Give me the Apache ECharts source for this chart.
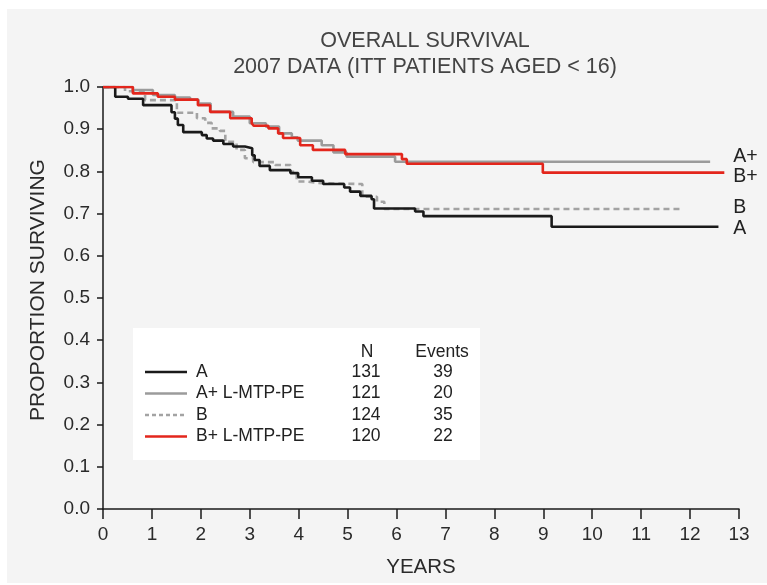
<!DOCTYPE html>
<html><head><meta charset="utf-8">
<script src="https://cdn.jsdelivr.net/npm/echarts@6/dist/echarts.min.js"></script>
<style>html,body{margin:0;padding:0;background:#fff}#c{width:767px;height:585px}</style>
</head><body><div id="c"></div>
<script>
const titleLines = ['OVERALL SURVIVAL', '2007 DATA (ITT PATIENTS AGED < 16)'];
const xAxisName = 'YEARS';
const yAxisName = 'PROPORTION SURVIVING';
const seriesNames = ['A', 'A+ L-MTP-PE', 'B', 'B+ L-MTP-PE'];
const endLabelTexts = ['A', 'A+', 'B', 'B+'];
const endLabelPos = [[12.88, 0.665], [12.88, 0.835], [12.88, 0.713], [12.88, 0.788]];
const nPatients = [131, 121, 124, 120];
const nEvents = [39, 20, 35, 22];

// Kaplan-Meier steps: [years, survival after event]
const survA = [[0,1],[0.25,0.977],[0.51,0.972],[0.82,0.957],[1.40,0.94],[1.47,0.925],[1.53,0.91],[1.64,0.893],
  [2.02,0.886],[2.12,0.878],[2.25,0.873],[2.46,0.865],[2.66,0.859],[2.9,0.855],[3.05,0.838],[3.1,0.827],[3.2,0.813],
  [3.41,0.803],[3.83,0.796],[3.99,0.786],[4.27,0.778],[4.5,0.770],[4.93,0.762],[5.05,0.752],[5.26,0.742],[5.49,0.734],
  [5.54,0.712],[6.38,0.705],[6.55,0.694],[9.17,0.669],[12.58,0.669]];
const survAplus = [[0,1],[0.61,0.993],[1.02,0.981],[1.47,0.975],[1.78,0.970],[1.95,0.961],[2.2,0.941],[2.66,0.930],
  [3.0,0.914],[3.33,0.906],[3.6,0.890],[3.86,0.881],[3.98,0.873],[4.47,0.862],[4.71,0.845],[4.98,0.835],[5.97,0.823],[12.41,0.823]];
const survB = [[0,1],[0.45,0.99],[0.86,0.969],[1.51,0.939],[1.92,0.926],[2.09,0.915],[2.22,0.902],[2.39,0.896],[2.5,0.870],
  [2.73,0.851],[2.9,0.831],[3.07,0.822],[3.52,0.815],[3.83,0.799],[3.96,0.776],[4.17,0.772],[4.47,0.770],[5.3,0.740],
  [5.6,0.728],[5.75,0.711],[11.8,0.711]];
const survBplus = [[0,1],[0.61,0.985],[1.12,0.977],[1.47,0.970],[1.94,0.957],[2.19,0.941],[2.6,0.926],[3.04,0.914],[3.08,0.908],
  [3.38,0.902],[3.58,0.890],[3.68,0.879],[4.03,0.862],[4.29,0.851],[4.95,0.841],[6.11,0.829],[6.21,0.818],[8.99,0.797],[12.7,0.797]];

const colors = ['#1a1a1a', '#9b9b9b', '#a3a3a3', '#e3261c'];
const lineTypes = ['solid', 'solid', [6, 4], 'solid'];
const datasets = [survA, survAplus, survB, survBplus];
const zOrder = [3, 2, 1, 4];

const FONT = "'Liberation Sans', Arial, Helvetica, sans-serif";
const chart = echarts.init(document.getElementById('c'), null, {renderer: 'canvas'});

chart.setOption({
  animation: false,
  backgroundColor: '#ffffff',
  grid: {left: 103, right: 28, top: 87, bottom: 76, containLabel: false},
  xAxis: {
    type: 'value', min: 0, max: 13, interval: 1,
    name: xAxisName, nameLocation: 'middle', nameGap: 48,
    nameTextStyle: {fontFamily: FONT, fontSize: 20.5, color: '#2a2a2a'},
    axisLine: {show: true, lineStyle: {color: '#1a1a1a', width: 1.5}},
    axisTick: {show: true, length: 10, lineStyle: {color: '#1a1a1a', width: 1.5}},
    axisLabel: {fontFamily: FONT, fontSize: 19, color: '#2a2a2a', margin: 16},
    splitLine: {show: false}
  },
  yAxis: {
    type: 'value', min: 0, max: 1, interval: 0.1,
    axisLine: {show: true, lineStyle: {color: '#1a1a1a', width: 1.5}},
    axisTick: {show: true, length: 6, lineStyle: {color: '#1a1a1a', width: 1.5}},
    axisLabel: {fontFamily: FONT, fontSize: 19, color: '#2a2a2a', margin: 13, formatter: v => v.toFixed(1)},
    splitLine: {show: false}
  },
  series: datasets.map((d, i) => ({
    name: seriesNames[i], type: 'line', step: 'end', data: d, showSymbol: false, symbol: 'none',
    z: zOrder[i],
    lineStyle: {color: colors[i], width: 2.6, type: lineTypes[i]}
  }))
});

// Build graphics
const g = [];
g.push({type: 'rect', z: -10, silent: true, shape: {x: 7, y: 9, width: 760, height: 574}, style: {fill: '#f4f4f4'}});
titleLines.forEach((t, i) => g.push({type: 'text', x: 425, y: 41 + i * 26, style: {text: t, fontFamily: FONT, fontSize: 21.5, fill: '#444', textAlign: 'center', textVerticalAlign: 'middle'}}));
g.push({type: 'text', x: 38, y: 290, rotation: Math.PI / 2, style: {text: yAxisName, fontFamily: FONT, fontSize: 21, fill: '#2a2a2a', textAlign: 'center', textVerticalAlign: 'middle'}});
endLabelTexts.forEach((t, i) => {
  const p = chart.convertToPixel({gridIndex: 0}, endLabelPos[i]);
  g.push({type: 'text', x: p[0], y: p[1], z: 10, style: {text: t, fontFamily: FONT, fontSize: 19.5, fill: '#222', textAlign: 'left', textVerticalAlign: 'middle'}});
});
// legend box
const lx = 133, ly = 328, lw = 347, lh = 132;
g.push({type: 'rect', z: 5, shape: {x: lx, y: ly, width: lw, height: lh}, style: {fill: '#ffffff'}});
const txt = (x, y, s, align) => ({type: 'text', z: 6, x, y, style: {text: s, fontFamily: FONT, fontSize: 17.5, fill: '#222', textAlign: align, textVerticalAlign: 'middle'}});
g.push(txt(367, 352, 'N', 'center'));
g.push(txt(442, 352, 'Events', 'center'));
seriesNames.forEach((n, i) => {
  const y = 372 + i * 21.5;
  g.push({type: 'line', z: 6, shape: {x1: 145, y1: y, x2: 187, y2: y}, style: {stroke: colors[i], lineWidth: 2.6, lineDash: Array.isArray(lineTypes[i]) ? [4, 3] : null}});
  g.push(txt(196, y, n, 'left'));
  g.push(txt(366, y, String(nPatients[i]), 'center'));
  g.push(txt(443, y, String(nEvents[i]), 'center'));
});
chart.setOption({graphic: g});
</script></body></html>
